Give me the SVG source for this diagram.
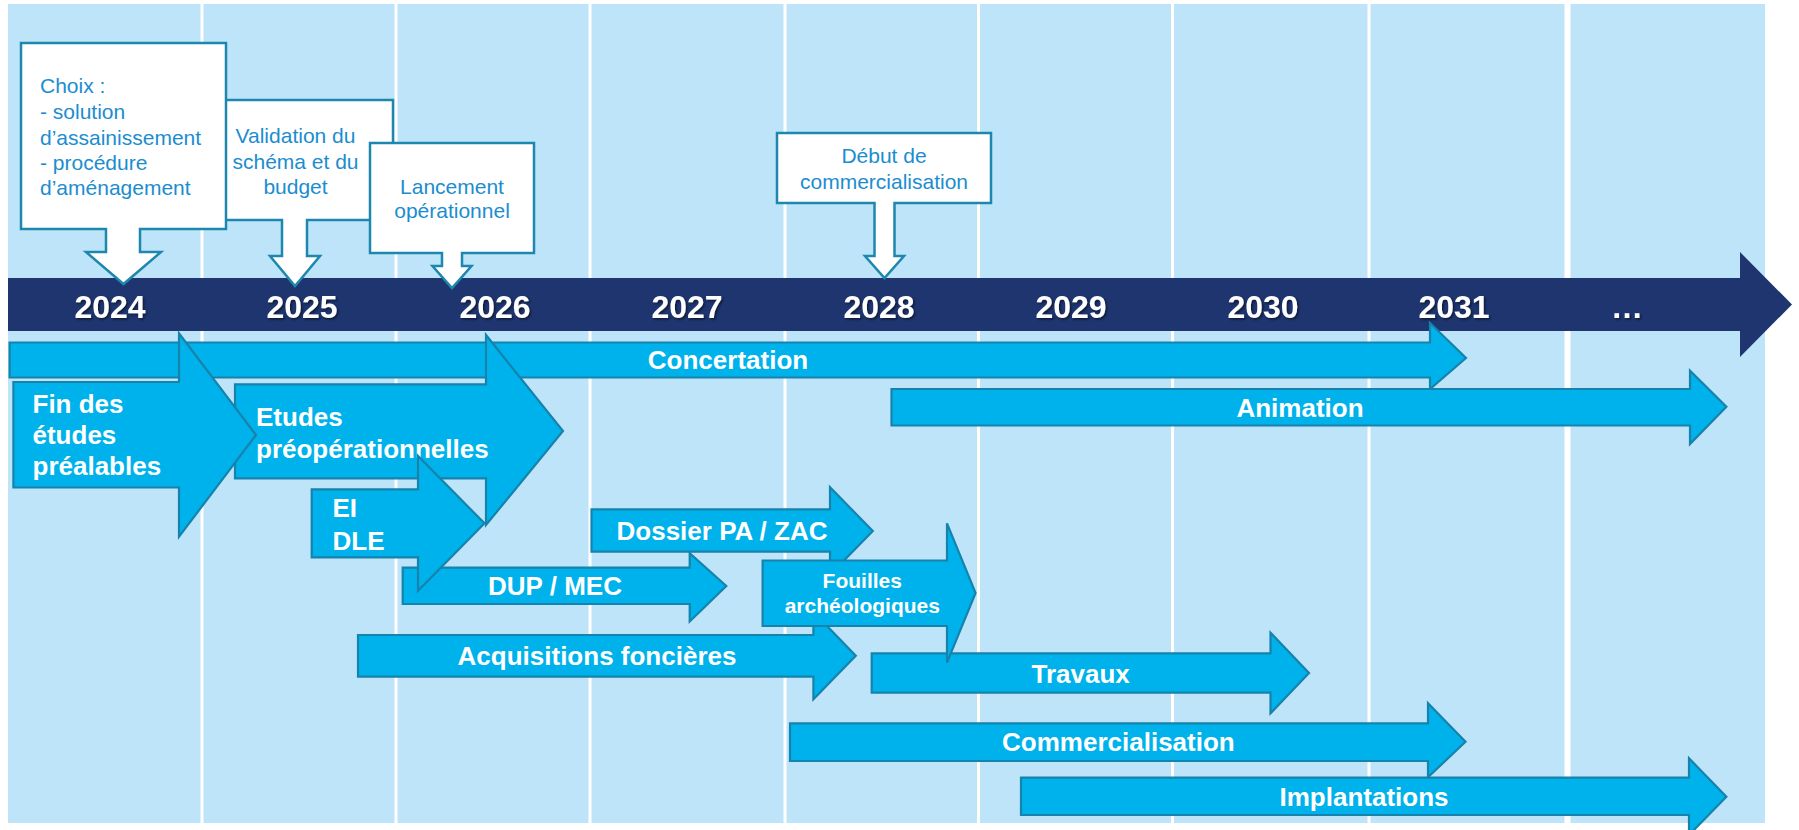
<svg xmlns="http://www.w3.org/2000/svg" width="1799" height="830" viewBox="0 0 1799 830">
<defs>
<style>
.col{fill:#BDE4F9}
.bar{fill:#1E3570}
.yr{font-family:"Liberation Sans",Arial,sans-serif;font-weight:bold;font-size:32px;fill:#fff;text-anchor:middle}
.call{fill:#fff;stroke:#1E87AE;stroke-width:2.5;stroke-linejoin:miter}
.ct{font-family:"Liberation Sans",Arial,sans-serif;font-size:21px;fill:#1B8DCF}
.mid{text-anchor:middle}
.ar{fill:#00B2EB;stroke:#1583AC;stroke-width:2.2}
.at{font-family:"Liberation Sans",Arial,sans-serif;font-weight:bold;font-size:26px;fill:#fff}
.sm{font-size:21px}
</style>
<filter id="sh" x="-10%" y="-10%" width="130%" height="140%">
<feDropShadow dx="1.5" dy="1.5" stdDeviation="1" flood-color="#000" flood-opacity="0.55"/>
</filter>
</defs>
<rect width="1799" height="830" fill="#fff"/>
<g id="columns">
<rect class="col" x="8" y="4" width="192.5" height="819"/>
<rect class="col" x="203.5" y="4" width="191" height="819"/>
<rect class="col" x="397.5" y="4" width="191" height="819"/>
<rect class="col" x="591.5" y="4" width="192" height="819"/>
<rect class="col" x="786.5" y="4" width="190.5" height="819"/>
<rect class="col" x="980" y="4" width="191" height="819"/>
<rect class="col" x="1174" y="4" width="193.5" height="819"/>
<rect class="col" x="1370.5" y="4" width="194" height="819"/>
<rect class="col" x="1570.5" y="4" width="194.5" height="819"/>
</g>
<g id="timeline">
<path class="bar" d="M8,278 H1740 V252 L1792,304.5 L1740,357 V331 H8 Z"/>
<g filter="url(#sh)">
<text class="yr" x="110" y="318">2024</text>
<text class="yr" x="302" y="318">2025</text>
<text class="yr" x="495" y="318">2026</text>
<text class="yr" x="687" y="318">2027</text>
<text class="yr" x="879" y="318">2028</text>
<text class="yr" x="1071" y="318">2029</text>
<text class="yr" x="1263" y="318">2030</text>
<text class="yr" x="1454" y="318">2031</text>
<text class="yr" x="1627" y="318">…</text>
</g>
</g>
<g id="connectors">
<g id="concertation">
<path class="ar" d="M9.6,342.5 H1430 V323 L1466,358 L1430,389 V377.5 H9.6 Z"/>
<text class="at mid" x="728" y="369">Concertation</text>
</g>
<g id="animation">
<path class="ar" d="M891.5,389 H1690 V370.7 L1726.4,406.7 L1690,444 V425.5 H891.5 Z"/>
<text class="at mid" x="1300" y="416.7">Animation</text>
</g>
<g id="etudes">
<path class="ar" d="M235,384.3 H486 V335 L563,431 L486,525 V478.3 H235 Z"/>
<text class="at" x="256" y="426">Etudes</text>
<text class="at" x="256" y="457.5">préopérationnelles</text>
</g>
<g id="fin-etudes">
<path class="ar" d="M13.4,382 H179 V333.3 L256,435 L179,536.7 V487.5 H13.4 Z"/>
<text class="at" x="32.5" y="412.7">Fin des</text>
<text class="at" x="32.5" y="444">études</text>
<text class="at" x="32.5" y="475">préalables</text>
</g>
<g id="dup-mec">
<path class="ar" d="M402.7,567.7 H689.7 V553.3 L726.3,586 L689.7,621.5 V604 H402.7 Z"/>
<text class="at mid" x="555" y="595">DUP / MEC</text>
</g>
<g id="ei-dle">
<path class="ar" d="M311.7,489.3 H418 V456 L484.5,523.3 L418,590.7 V557.3 H311.7 Z"/>
<text class="at" x="332.5" y="517.3">EI</text>
<text class="at" x="332.5" y="550">DLE</text>
</g>
<g id="dossier">
<path class="ar" d="M591.5,509.3 H830 V487.3 L872.8,531 L830,574.7 V551.7 H591.5 Z"/>
<text class="at mid" x="722" y="540">Dossier PA / ZAC</text>
</g>
<g id="acquisitions">
<path class="ar" d="M358,635 H813.4 V612 L855.8,655.7 L813.4,699.3 V676.7 H358 Z"/>
<text class="at mid" x="597" y="665">Acquisitions foncières</text>
</g>
<g id="travaux">
<path class="ar" d="M871.7,653.3 H1270.5 V632.7 L1309,673 L1270.5,713.3 V692.7 H871.7 Z"/>
<text class="at mid" x="1080.7" y="682.7">Travaux</text>
</g>
<g id="fouilles">
<path class="ar" d="M762.6,560.5 H947 V523.3 L975.6,593 L947,662.7 V626 H762.6 Z"/>
<text class="at sm mid" x="862.3" y="588.3">Fouilles</text>
<text class="at sm mid" x="862.3" y="613.3">archéologiques</text>
</g>
<g id="commercialisation">
<path class="ar" d="M790,723.3 H1428 V703.3 L1465.5,741.7 L1428,777.3 V761 H790 Z"/>
<text class="at mid" x="1118.4" y="750.7">Commercialisation</text>
</g>
<g id="implantations">
<path class="ar" d="M1021,777.7 H1689 V758.3 L1726.4,796.7 L1689,835 V815 H1021 Z"/>
<text class="at mid" x="1364" y="806">Implantations</text>
</g>
</g>
<g id="milestone-validation">
<path class="call" d="M197,100 H393 V220 H307 V256 H320 L295,286 L270,256 H282 V220 H197 Z"/>
<text class="ct mid" x="295.5" y="143">Validation du</text>
<text class="ct mid" x="295.5" y="169">schéma et du</text>
<text class="ct mid" x="295.5" y="194">budget</text>
</g>
<g id="milestone-choix">
<path class="call" d="M21,43 H226 V229 H140 V252 H161 L123.5,284 L86,252 H106 V229 H21 Z"/>
<text class="ct" x="40" y="93">Choix :</text>
<text class="ct" x="40" y="119">- solution</text>
<text class="ct" x="40" y="145">d’assainissement</text>
<text class="ct" x="40" y="170">- procédure</text>
<text class="ct" x="40" y="195">d’aménagement</text>
</g>
<g id="milestone-lancement">
<path class="call" d="M370,143 H534 V253 H462 V266 H471.5 L452,288 L432.5,266 H442 V253 H370 Z"/>
<text class="ct mid" x="452" y="194">Lancement</text>
<text class="ct mid" x="452" y="218">opérationnel</text>
</g>
<g id="milestone-commercialisation">
<path class="call" d="M777,133 H991 V203 H894.5 V256 H904 L884.5,278 L865,256 H874.5 V203 H777 Z"/>
<text class="ct mid" x="884" y="163">Début de</text>
<text class="ct mid" x="884" y="189">commercialisation</text>
</g>
</svg>
